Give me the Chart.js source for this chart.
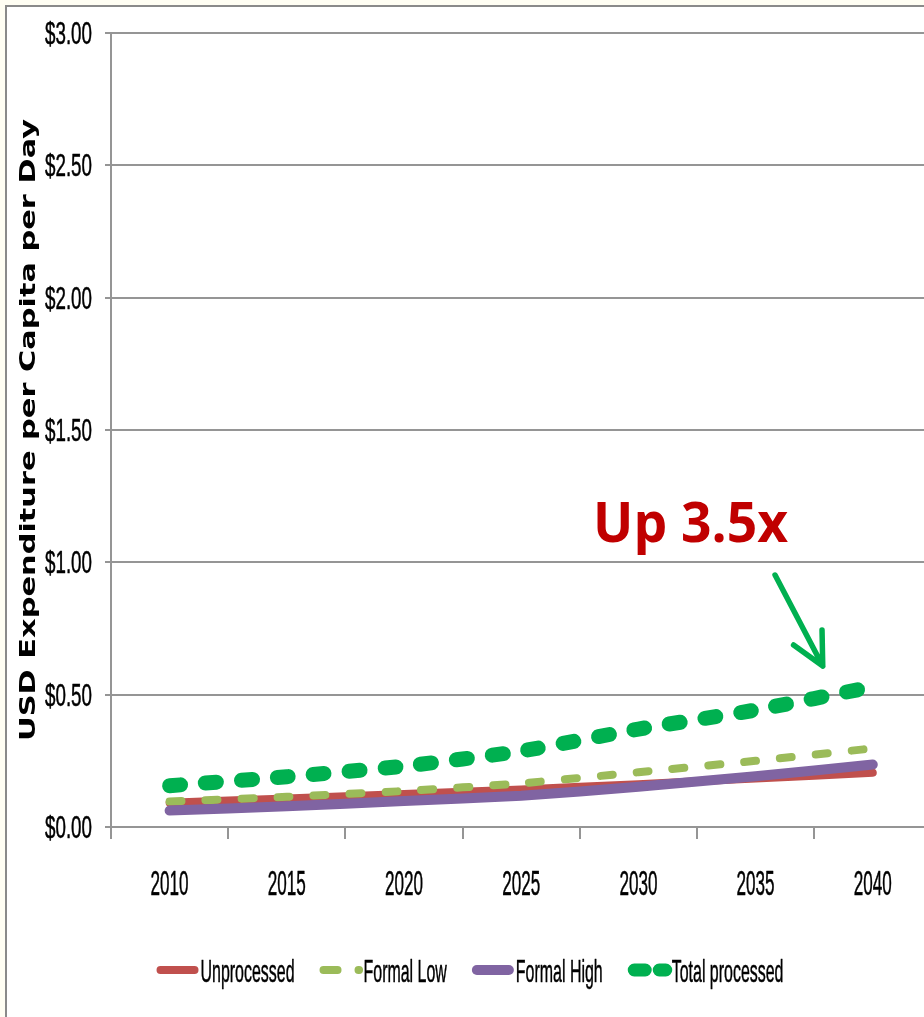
<!DOCTYPE html>
<html>
<head>
<meta charset="utf-8">
<script src="https://cdn.jsdelivr.net/npm/chart.js@4.4.1/dist/chart.umd.min.js"></script>
<style>
  html, body { margin: 0; padding: 0; width: 924px; height: 1017px; overflow: hidden; background: #fffef3; }
  #frame { position: absolute; left: 5px; top: 5px; width: 1000px; height: 1100px; border: 2px solid #8a8a8a; background: #fff; box-sizing: border-box; }
  #chart { position: absolute; left: 0; top: 0; }
</style>
</head>
<body>
<div id="frame"></div>
<canvas id="chart" width="940" height="1017"></canvas>
<script>
// Daily per-capita spending (USD) by food category, 2010-2040
const years = ['2010', '2015', '2020', '2025', '2030', '2035', '2040'];
const unprocessed    = [0.092, 0.108, 0.125, 0.142, 0.162, 0.183, 0.205];
const formalLow      = [0.096, 0.114, 0.136, 0.165, 0.207, 0.250, 0.297];
const formalHigh     = [0.062, 0.078, 0.098, 0.118, 0.152, 0.192, 0.236];
const totalProcessed = [0.156, 0.190, 0.230, 0.287, 0.370, 0.442, 0.530];

const yTickValues = [0, 0.5, 1, 1.5, 2, 2.5, 3];
const yAxisTitle = 'USD Expenditure per Capita per Day';
const calloutText = 'Up 3.5x';
// callout anchor (category index, value) and arrow ends
const calloutAt = { x: 4.445, y: 1.078 };
const arrowFrom = { x: 5.166, y: 0.952 };
const arrowTo   = { x: 5.573, y: 0.608 };

const gridColor = '#959595';
const tickFontY = '31px "Liberation Sans Narrow", "Liberation Sans", sans-serif';
const tickFontX = '35px "Liberation Sans Narrow", "Liberation Sans", sans-serif';
const legendFont = '32px "Liberation Sans Narrow", "Liberation Sans", sans-serif';

function fmtDollar(v) { return '$' + v.toFixed(2); }

// draw text compressed horizontally by factor sx, with an optional thin outline to add weight
function squishText(ctx, text, x, y, sx, align, weight) {
  ctx.save();
  ctx.translate(x, y);
  ctx.scale(sx, 1);
  ctx.textAlign = align;
  ctx.textBaseline = 'alphabetic';
  ctx.fillText(text, 0, 0);
  if (weight) {
    ctx.lineWidth = weight;
    ctx.strokeStyle = ctx.fillStyle;
    ctx.lineJoin = 'round';
    ctx.strokeText(text, 0, 0);
  }
  ctx.restore();
}

const decorations = {
  id: 'decorations',
  afterDraw(chart) {
    const ctx = chart.ctx;
    const area = chart.chartArea;
    const xs = chart.scales.x, ys = chart.scales.y;
    ctx.save();
    ctx.fillStyle = '#000';

    // y tick labels
    ctx.font = tickFontY;
    const ySx = 47 / ctx.measureText('$0.00').width;
    yTickValues.forEach(v => {
      squishText(ctx, fmtDollar(v), area.left - 19, ys.getPixelForValue(v) + 11, ySx, 'right', 0.55);
    });

    // x tick labels
    ctx.font = tickFontX;
    const xSx = 38 / ctx.measureText('2010').width;
    years.forEach((yr, i) => {
      squishText(ctx, yr, xs.getPixelForValue(i), area.bottom + 68, xSx, 'center', 0.55);
    });

    // y axis title (rotated)
    ctx.save();
    ctx.font = 'bold 30px "DejaVu Sans", sans-serif';
    const tw = ctx.measureText(yAxisTitle).width;
    ctx.translate(35, (area.top + area.bottom) / 2);
    ctx.rotate(-Math.PI / 2);
    ctx.scale(622 / tw, 0.72);
    ctx.textAlign = 'center';
    ctx.textBaseline = 'alphabetic';
    ctx.fillText(yAxisTitle, 0, 0);
    ctx.restore();

    // legend
    ctx.font = legendFont;
    const lSx = 94 / ctx.measureText('Unprocessed').width;
    const sampleW = 44, itemGap = 25;
    const items = chart.data.datasets.map(ds => ({ ds, tw: ctx.measureText(ds.label).width * lSx }));
    const total = items.reduce((s, it) => s + sampleW + it.tw, 0) + itemGap * (items.length - 1);
    let lx = chart.width / 2 - total / 2;
    const ly = area.bottom + 143;
    items.forEach(it => {
      const ds = it.ds;
      const w = ds.legendWidth;
      ctx.save();
      ctx.strokeStyle = ds.borderColor;
      ctx.lineWidth = w;
      ctx.lineCap = 'round';
      ctx.setLineDash(ds.legendDash || []);
      ctx.beginPath();
      ctx.moveTo(lx + w / 2, ly);
      ctx.lineTo(lx + (ds.legendEnd || (sampleW - 2 - w / 2)), ly);
      ctx.stroke();
      ctx.restore();
      squishText(ctx, ds.label, lx + sampleW, ly + 12, lSx, 'left', 0.5);
      lx += sampleW + it.tw + itemGap;
    });

    // callout text
    ctx.font = 'bold 56px "Open Sans", sans-serif';
    ctx.fillStyle = '#c00000';
    const cSx = 195 / ctx.measureText(calloutText).width;
    squishText(ctx, calloutText, xs.getPixelForValue(calloutAt.x), ys.getPixelForValue(calloutAt.y), cSx, 'center');

    // arrow pointing at the total line
    const x0 = xs.getPixelForValue(arrowFrom.x), y0 = ys.getPixelForValue(arrowFrom.y);
    const x1 = xs.getPixelForValue(arrowTo.x), y1 = ys.getPixelForValue(arrowTo.y);
    const ang = Math.atan2(y0 - y1, x0 - x1);
    const head = 36, spread = 26.5 * Math.PI / 180;
    ctx.strokeStyle = '#00b050';
    ctx.lineWidth = 5.5;
    ctx.lineCap = 'round';
    ctx.lineJoin = 'round';
    ctx.beginPath();
    ctx.moveTo(x0, y0);
    ctx.lineTo(x1, y1);
    ctx.moveTo(x1 + head * Math.cos(ang - spread), y1 + head * Math.sin(ang - spread));
    ctx.lineTo(x1, y1);
    ctx.lineTo(x1 + head * Math.cos(ang + spread), y1 + head * Math.sin(ang + spread));
    ctx.stroke();

    ctx.restore();
  }
};

new Chart(document.getElementById('chart'), {
  type: 'line',
  data: {
    labels: years,
    datasets: [
      { label: 'Unprocessed', data: unprocessed, borderColor: '#c0504d', borderWidth: 8,
        borderCapStyle: 'round', order: 4, legendWidth: 8 },
      { label: 'Formal Low', data: formalLow, borderColor: '#9bbb59', borderWidth: 8,
        borderDash: [12, 24], borderCapStyle: 'round', order: 3,
        legendWidth: 8, legendDash: [14, 21], legendEnd: 39.5 },
      { label: 'Formal High', data: formalHigh, borderColor: '#8064a2', borderWidth: 10,
        borderCapStyle: 'round', order: 2, legendWidth: 10 },
      { label: 'Total processed', data: totalProcessed, borderColor: '#00b050', borderWidth: 15,
        borderDash: [11, 25], borderCapStyle: 'round', order: 1,
        legendWidth: 13, legendDash: [11, 14], legendEnd: 38 }
    ]
  },
  options: {
    responsive: false,
    animation: false,
    devicePixelRatio: 1,
    layout: { padding: { top: 33, right: 8.6, bottom: 178, left: 0 } },
    elements: { point: { radius: 0 }, line: { tension: 0.2, fill: false } },
    plugins: { legend: { display: false }, tooltip: { enabled: false } },
    scales: {
      x: {
        type: 'category',
        offset: true,
        grid: { offset: true, drawOnChartArea: false, drawTicks: true, tickLength: 12, color: gridColor, lineWidth: 2 },
        border: { display: true, color: gridColor, width: 2 },
        ticks: { display: false },
        afterFit(scale) { scale.height = 12; }
      },
      y: {
        min: 0, max: 3,
        ticks: { display: false, stepSize: 0.5 },
        grid: { color: gridColor, lineWidth: 2, drawTicks: true, tickLength: 6 },
        border: { display: true, color: gridColor, width: 2 },
        afterFit(scale) { scale.width = 111; }
      }
    }
  },
  plugins: [decorations]
});
</script>
</body>
</html>
